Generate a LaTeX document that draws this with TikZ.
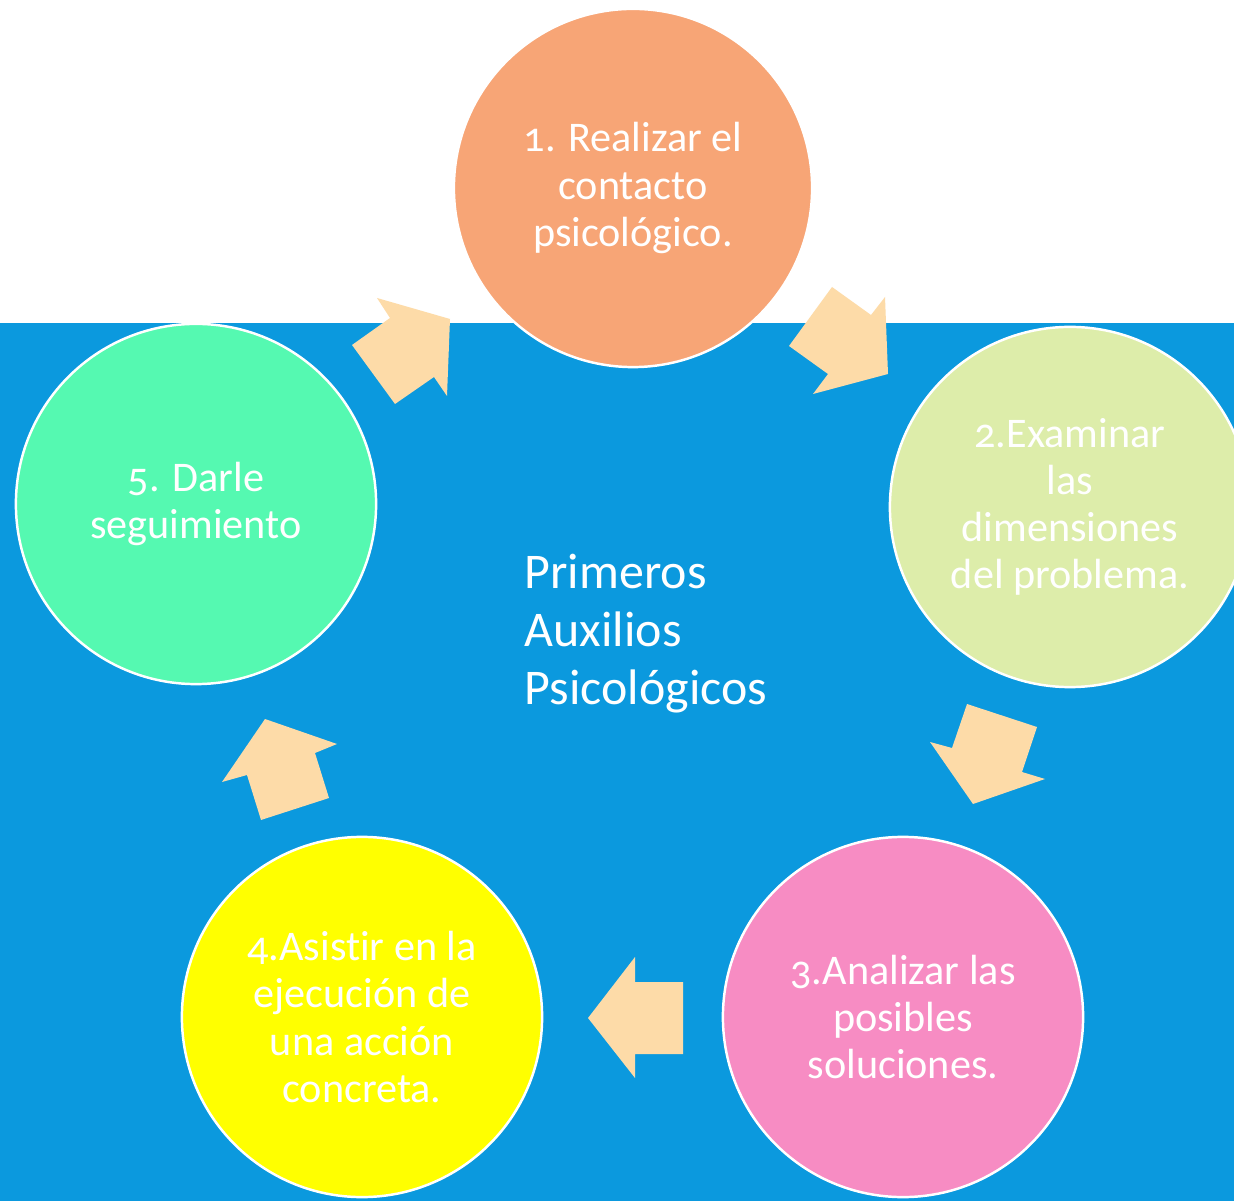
\documentclass[tikz,border=0pt]{standalone}
\usepackage{fontspec}
\setmainfont[Numbers=OldStyle,Ligatures=NoCommon]{Carlito}
\definecolor{bgblue}{HTML}{0B99DE}
\definecolor{csalmon}{HTML}{F7A576}
\definecolor{cgreen}{HTML}{DDEDAA}
\definecolor{cpink}{HTML}{F78CC3}
\definecolor{cyellow}{HTML}{FFFF00}
\definecolor{cmint}{HTML}{55F9B1}
\definecolor{cpeach}{HTML}{FDDBA8}
\tikzset{
  stepcircle/.style={circle, draw=white, line width=0.7pt, minimum size=3.6cm, inner sep=0pt,
    text=white, align=center, font=\fontsize{12pt}{13.4pt}\selectfont},
  blockarrow/.style={fill=cpeach, draw=none},
}
\begin{document}
\begin{tikzpicture}[x=0.01cm, y=-0.01cm]
\useasboundingbox (0,0) rectangle (1234,1201);
\clip (0,0) rectangle (1234,1201);
\fill[white] (0,0) rectangle (1234,1201);
\fill[bgblue] (0,323) rectangle (1234,1201);

\node[stepcircle, fill=csalmon, minimum size=3.58cm] (c1) at (633,188) {1. Realizar el\\contacto\\psicológico.};
\node[stepcircle, fill=cgreen] (c2) at (1070,507) {2.Examinar\\las\\dimensiones\\del problema.};
\node[stepcircle, fill=cpink] (c3) at (903,1017) {3.Analizar las\\posibles\\soluciones.};
\node[stepcircle, fill=cyellow] (c4) at (362,1017) {4.Asistir en la\\ejecución de\\una acción\\concreta.};
\node[stepcircle, fill=cmint] (c5) at (196,504) {5. Darle\\seguimiento};

\node[anchor=west, align=left, text=white, inner sep=0pt,
  font=\fontsize{14.2pt}{16.5pt}\selectfont] (title) at (524,634) {Primeros\\Auxilios\\Psicológicos};

% block arrows
\fill[blockarrow] (789,346) -- (832,287) -- (871,315) -- (885,297) -- (888,374) -- (813,394) -- (828,374) -- cycle;
\fill[blockarrow] (967,704) -- (1037,727) -- (1022,772) -- (1045,779) -- (973,804) -- (930,742) -- (952,748) -- cycle;
\fill[blockarrow] (588,1018) -- (635,957) -- (635,982) -- (683,982) -- (683,1054) -- (635,1054) -- (635,1078) -- cycle;
\fill[blockarrow] (265,719) -- (337,744) -- (315,753) -- (329,798) -- (261,820) -- (247,775) -- (222,782) -- cycle;
\fill[blockarrow] (377,298) -- (450,319) -- (447,396) -- (434,377) -- (395,404) -- (352,345) -- (390,318) -- cycle;
\end{tikzpicture}
\end{document}
